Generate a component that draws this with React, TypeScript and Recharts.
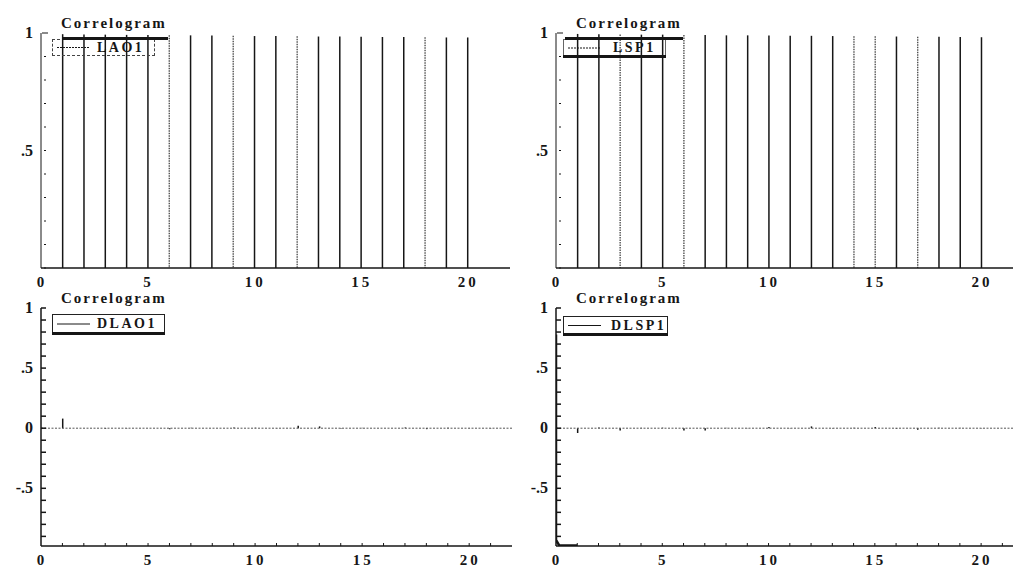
import React from "react";
import { ComposedChart, Bar, Line, XAxis, YAxis, ReferenceLine, Legend } from "recharts";

// lags and autocorrelations
const levelLags = [1, 2, 3, 4, 5, 6, 7, 8, 9, 10, 11, 12, 13, 14, 15, 16, 17, 18, 19, 20];
const lao1 = [0.995, 0.994, 0.993, 0.992, 0.991, 0.99, 0.99, 0.989, 0.988, 0.987, 0.987, 0.986, 0.985, 0.985, 0.984, 0.983, 0.983, 0.982, 0.981, 0.981];
const lsp1 = [0.996, 0.995, 0.994, 0.993, 0.993, 0.992, 0.991, 0.99, 0.99, 0.989, 0.988, 0.988, 0.987, 0.986, 0.986, 0.985, 0.984, 0.984, 0.983, 0.982];

const diffLags = [1, 2, 3, 4, 5, 6, 7, 8, 9, 10, 11, 12, 13, 14, 15, 16, 17, 18, 19, 20, 21];
const dlao1 = [0.08, 0.0, -0.005, 0.002, 0.0, -0.008, 0.003, 0.0, 0.005, 0.004, -0.003, 0.02, 0.015, -0.004, 0.003, 0.0, 0.005, -0.008, 0.004, 0.002, -0.003];
const dlsp1 = [-0.04, 0.005, -0.02, 0.003, 0.004, -0.02, -0.02, 0.003, 0.002, 0.01, 0.002, 0.015, -0.003, 0.004, 0.01, -0.005, -0.012, 0.004, 0.003, -0.002, 0.0];

// the heavy trace hugging the axis in the DLSP1 panel
const dlsp1EdgeLags = [0, 0, 0.15, 1];
const dlsp1EdgeValues = [0.78, -0.93, -0.975, -0.975];

const xTicks = [0, 1, 2, 3, 4, 5, 6, 7, 8, 9, 10, 11, 12, 13, 14, 15, 16, 17, 18, 19, 20, 21];
const xLabels = [0, 5, 10, 15, 20];
const levelTicks = [0, 0.1, 0.2, 0.3, 0.4, 0.5, 0.6, 0.7, 0.8, 0.9, 1];
const levelLabels = [0.5, 1];
const diffTicks = [-0.9, -0.8, -0.7, -0.6, -0.5, -0.4, -0.3, -0.2, -0.1, 0, 0.1, 0.2, 0.3, 0.4, 0.5, 0.6, 0.7, 0.8, 0.9, 1];
const diffLabels = [-0.5, 0, 0.5, 1];

const FONT = "'Liberation Serif', 'Times New Roman', serif";
const INK = "#161616";

const fmt = (v: number) => {
  if (v === 0) return "0";
  if (v === 1) return "1";
  return v < 0 ? "-" + String(v).replace("-0", "") : String(v).replace(/^0/, "");
};

const toRows = (lags: number[], vals: number[]) => lags.map((lag, i) => ({ lag, acf: vals[i] }));

const makeStroke = (dotted: number[]) => (props: any) => {
  const { x, y, width, height, payload } = props;
  const cx = x + width / 2;
  const isDotted = dotted.includes(payload.lag);
  return (
    <line
      x1={cx}
      x2={cx}
      y1={y}
      y2={y + height}
      stroke={isDotted ? "#444" : INK}
      strokeWidth={isDotted ? 1.3 : 1.5}
      strokeDasharray={isDotted ? "1.5 1" : undefined}
    />
  );
};

const XTick = (props: any) => {
  const { x, y, payload, marks } = props;
  const v = payload.value;
  const show = xLabels.includes(v);
  return (
    <g>
      {marks && v > 0 && <line x1={x} x2={x} y1={y} y2={y - 3} stroke={INK} strokeWidth={1} />}
      {show && (
        <text x={x + 1} y={y + 19} textAnchor="middle" fontFamily={FONT} fontSize={15} fontWeight="bold" letterSpacing={3} fill={INK}>
          {v}
        </text>
      )}
    </g>
  );
};

const YTick = (props: any) => {
  const { x, y, payload, labels, heavy } = props;
  const v = Math.round(payload.value * 10) / 10;
  const show = labels.includes(v);
  let tick;
  if (heavy) tick = <line x1={x} x2={x + 5} y1={y} y2={y} stroke={INK} strokeWidth={1.5} />;
  else if (v === 1) tick = <line x1={x + 1} x2={x + 7} y1={y} y2={y} stroke={INK} strokeWidth={1} />;
  else tick = <line x1={x + 3} x2={x + 5} y1={y} y2={y} stroke={INK} strokeWidth={1} />;
  return (
    <g>
      {tick}
      {show && (
        <text x={x - 8} y={y + 5} textAnchor="end" fontFamily={FONT} fontSize={16} fontWeight="bold" fill={INK}>
          {fmt(v)}
        </text>
      )}
    </g>
  );
};

type LegendCfg = {
  left: number;
  top: number;
  width: number;
  height: number;
  border: string;
  sampleDash?: string;
  textLeft: number;
  bars: { left: number; top: number; width: number }[];
};

const LegendBox = ({ name, cfg }: { name: string; cfg: LegendCfg }) => (
  <div style={{ position: "relative", width: cfg.width, height: cfg.height }}>
    <div style={{ position: "absolute", inset: 0, border: cfg.border, boxSizing: "border-box" }} />
    <svg style={{ position: "absolute", left: 4, top: 0 }} width={36} height={cfg.height}>
      <line x1={1} x2={34} y1={cfg.height / 2} y2={cfg.height / 2} stroke={INK} strokeWidth={1} strokeDasharray={cfg.sampleDash} />
    </svg>
    <span
      style={{
        position: "absolute",
        left: cfg.textLeft,
        top: 0,
        lineHeight: cfg.height + "px",
        fontFamily: FONT,
        fontSize: 14,
        fontWeight: "bold",
        letterSpacing: 2.5,
        color: INK,
      }}
    >
      {name}
    </span>
    {cfg.bars.map((b, i) => (
      <div key={i} style={{ position: "absolute", left: b.left, top: b.top, width: b.width, height: 3, background: INK }} />
    ))}
  </div>
);

type PanelProps = {
  left: number;
  top: number;
  width: number;
  height: number;
  marginTop: number;
  marginRight: number;
  plotHeight: number;
  xMax: number;
  yDomain: [number, number];
  yTicks: number[];
  yLabels: number[];
  heavyAxis: boolean;
  name: string;
  rows: { lag: number; acf: number }[];
  dotted: number[];
  zeroLine: boolean;
  edge?: { lag: number; acf: number }[];
  legend: LegendCfg;
};

const Panel = (p: PanelProps) => (
  <div style={{ position: "absolute", left: p.left, top: p.top, width: p.width, height: p.height }}>
    <div
      style={{
        position: "absolute",
        left: 61,
        top: p.marginTop - 17,
        fontFamily: FONT,
        fontSize: 15,
        fontWeight: "bold",
        letterSpacing: 2,
        color: INK,
        lineHeight: "15px",
        whiteSpace: "nowrap",
      }}
    >
      Correlogram
    </div>
    <ComposedChart
      width={p.width}
      height={p.height}
      data={p.rows}
      margin={{ top: p.marginTop, right: p.marginRight, bottom: 0, left: 0 }}
    >
      <XAxis
        dataKey="lag"
        type="number"
        domain={[0, p.xMax]}
        ticks={xTicks}
        interval={0}
        height={p.height - p.marginTop - p.plotHeight}
        tickSize={0}
        tickMargin={0}
        tickLine={false}
        axisLine={{ stroke: INK, strokeWidth: 1.5 }}
        tick={<XTick marks={p.zeroLine} />}
        allowDataOverflow
      />
      <YAxis
        type="number"
        domain={p.yDomain}
        ticks={p.yTicks}
        interval={0}
        width={41}
        tickSize={0}
        tickMargin={0}
        tickLine={false}
        axisLine={{ stroke: INK, strokeWidth: p.heavyAxis ? 1.5 : 1 }}
        tick={<YTick labels={p.yLabels} heavy={p.heavyAxis} />}
        allowDataOverflow
      />
      {p.zeroLine && <ReferenceLine y={0} stroke="#555" strokeWidth={1} strokeDasharray="2 1.5" />}
      <Bar dataKey="acf" name={p.name} barSize={2} shape={makeStroke(p.dotted)} isAnimationActive={false} />
      {p.edge && (
        <Line
          data={p.edge}
          dataKey="acf"
          stroke={INK}
          strokeWidth={2.5}
          dot={false}
          legendType="none"
          isAnimationActive={false}
        />
      )}
      <Legend
        layout="horizontal"
        verticalAlign="middle"
        align="center"
        wrapperStyle={{ position: "absolute", left: p.legend.left, top: p.legend.top, width: p.legend.width, height: p.legend.height }}
        content={() => <LegendBox name={p.name} cfg={p.legend} />}
      />
    </ComposedChart>
  </div>
);

export default function App() {
  return (
    <div style={{ position: "absolute", left: 0, top: 0, width: 1015, height: 569, overflow: "hidden", background: "#fff" }}>
      <Panel
        left={0}
        top={0}
        width={515}
        height={300}
        marginTop={33}
        marginRight={5}
        plotHeight={235}
        xMax={22}
        yDomain={[0, 1]}
        yTicks={levelTicks}
        yLabels={levelLabels}
        heavyAxis={false}
        name="LAO1"
        rows={toRows(levelLags, lao1)}
        dotted={[6, 9, 12, 18]}
        zeroLine={false}
        legend={{
          left: 52,
          top: 39,
          width: 103,
          height: 17,
          border: "1px dashed #444",
          sampleDash: "2 1",
          textLeft: 45,
          bars: [{ left: 10, top: -2, width: 106 }],
        }}
      />
      <Panel
        left={515}
        top={0}
        width={500}
        height={300}
        marginTop={33}
        marginRight={2}
        plotHeight={235}
        xMax={21.5}
        yDomain={[0, 1]}
        yTicks={levelTicks}
        yLabels={levelLabels}
        heavyAxis={false}
        name="LSP1"
        rows={toRows(levelLags, lsp1)}
        dotted={[3, 6, 14, 15, 17]}
        zeroLine={false}
        legend={{
          left: 48,
          top: 39,
          width: 103,
          height: 18,
          border: "1px solid #666",
          sampleDash: "2 1",
          textLeft: 50,
          bars: [
            { left: 2, top: -2, width: 118 },
            { left: 0, top: 16, width: 103 },
          ],
        }}
      />
      <Panel
        left={0}
        top={280}
        width={515}
        height={289}
        marginTop={28}
        marginRight={3}
        plotHeight={238}
        xMax={22}
        yDomain={[-0.98, 1]}
        yTicks={diffTicks}
        yLabels={diffLabels}
        heavyAxis={true}
        name="DLAO1"
        rows={toRows(diffLags, dlao1)}
        dotted={[]}
        zeroLine={true}
        legend={{
          left: 52,
          top: 34,
          width: 113,
          height: 20,
          border: "1.5px solid #222",
          textLeft: 45,
          bars: [{ left: 0, top: 18, width: 113 }],
        }}
      />
      <Panel
        left={515}
        top={280}
        width={500}
        height={289}
        marginTop={28}
        marginRight={2}
        plotHeight={238}
        xMax={21.5}
        yDomain={[-0.98, 1]}
        yTicks={diffTicks}
        yLabels={diffLabels}
        heavyAxis={true}
        name="DLSP1"
        rows={toRows(diffLags, dlsp1)}
        dotted={[]}
        zeroLine={true}
        edge={toRows(dlsp1EdgeLags, dlsp1EdgeValues)}
        legend={{
          left: 48,
          top: 36,
          width: 105,
          height: 19,
          border: "1px solid #222",
          textLeft: 48,
          bars: [{ left: 0, top: 17, width: 105 }],
        }}
      />
    </div>
  );
}
